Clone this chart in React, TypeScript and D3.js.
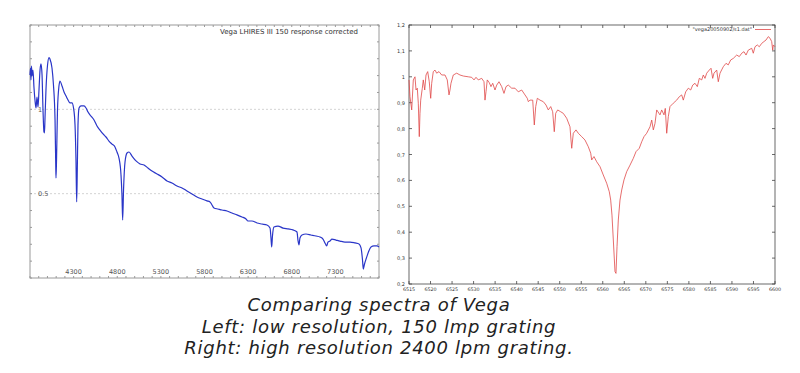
import * as d3 from "d3";

// left panel: low resolution spectrum, [wavelength A, relative flux]
const LEFT_SPECTRUM: [number, number][] = [
  [3800, 1.204], [3806, 1.245], [3811, 1.174], [3817, 1.257], [3823, 1.198], [3834, 1.233],
  [3846, 1.126], [3857, 1.055], [3869, 1.008], [3880, 1.073], [3892, 1.014], [3903, 1.115],
  [3915, 1.233], [3926, 1.269], [3938, 1.204], [3949, 0.996], [3960, 0.866], [3966, 0.86],
  [3972, 0.949], [3983, 1.115], [4001, 1.263], [4018, 1.307], [4029, 1.298], [4052, 1.245],
  [4069, 1.144], [4087, 0.937], [4095, 0.67], [4098, 0.593], [4104, 0.7], [4115, 0.996],
  [4132, 1.138], [4144, 1.168], [4167, 1.138], [4190, 1.103], [4213, 1.079], [4236, 1.055],
  [4258, 1.038], [4281, 1.038], [4299, 1.008], [4316, 0.907], [4327, 0.7], [4335, 0.451],
  [4342, 0.64], [4350, 0.907], [4362, 1.008], [4385, 1.02], [4419, 1.02], [4442, 1.008],
  [4465, 0.984], [4499, 0.96], [4534, 0.937], [4568, 0.901], [4602, 0.877], [4637, 0.854],
  [4671, 0.836], [4705, 0.812], [4740, 0.794], [4774, 0.777], [4797, 0.747], [4820, 0.711],
  [4843, 0.611], [4854, 0.492], [4862, 0.344], [4872, 0.522], [4889, 0.688], [4912, 0.741],
  [4935, 0.747], [4969, 0.723], [5015, 0.694], [5061, 0.676], [5107, 0.67], [5152, 0.652],
  [5198, 0.634], [5256, 0.617], [5313, 0.599], [5370, 0.575], [5427, 0.563], [5485, 0.545],
  [5542, 0.534], [5599, 0.516], [5657, 0.498], [5714, 0.48], [5771, 0.468], [5828, 0.457],
  [5863, 0.451], [5886, 0.433], [5909, 0.415], [5955, 0.409], [6001, 0.403], [6058, 0.397],
  [6115, 0.385], [6172, 0.374], [6230, 0.362], [6276, 0.35], [6298, 0.338], [6344, 0.338],
  [6402, 0.326], [6459, 0.32], [6516, 0.314], [6551, 0.296], [6562, 0.237], [6570, 0.184],
  [6579, 0.249], [6596, 0.302], [6642, 0.308], [6700, 0.296], [6757, 0.291], [6814, 0.285],
  [6860, 0.273], [6871, 0.225], [6883, 0.196], [6894, 0.237], [6917, 0.255], [6963, 0.261],
  [7020, 0.255], [7078, 0.249], [7124, 0.243], [7158, 0.231], [7181, 0.208], [7200, 0.19],
  [7215, 0.213], [7238, 0.219], [7261, 0.231], [7307, 0.225], [7353, 0.219], [7410, 0.213],
  [7468, 0.213], [7525, 0.208], [7571, 0.202], [7594, 0.178], [7611, 0.107], [7620, 0.053],
  [7634, 0.083], [7656, 0.119], [7679, 0.154], [7708, 0.184], [7743, 0.19], [7777, 0.19],
  [7800, 0.184],
];

// right panel: H-alpha region at 2400 lpm
const RIGHT_SPECTRUM: [number, number][] = [
  [6515.0, 0.988], [6515.23, 0.923], [6515.63, 0.872], [6516.0, 0.988], [6516.39, 1.0],
  [6516.63, 0.949], [6516.93, 0.956], [6517.16, 0.898], [6517.39, 0.769], [6517.55, 0.859],
  [6517.72, 0.91], [6518.09, 0.956], [6518.32, 0.988], [6518.65, 0.949], [6518.95, 1.007],
  [6519.34, 1.02], [6519.71, 0.981], [6520.04, 0.917], [6520.27, 0.975], [6520.64, 1.02],
  [6521.04, 1.026], [6521.43, 1.014], [6521.97, 1.02], [6522.59, 1.007], [6523.36, 1.007],
  [6523.89, 0.988], [6524.29, 0.93], [6524.52, 0.949], [6524.75, 0.975], [6525.29, 1.007],
  [6526.08, 1.014], [6526.84, 1.007], [6527.61, 1.003], [6528.77, 1.0], [6529.56, 0.998],
  [6530.1, 0.988], [6530.56, 0.998], [6531.09, 0.988], [6531.88, 0.994], [6532.42, 0.981],
  [6532.65, 0.91], [6532.88, 0.942], [6533.18, 0.988], [6533.65, 0.977], [6534.04, 0.962],
  [6534.44, 0.975], [6534.97, 0.949], [6535.37, 0.968], [6535.9, 0.981], [6536.53, 0.962],
  [6537.06, 0.936], [6537.53, 0.962], [6538.06, 0.968], [6538.85, 0.956], [6539.62, 0.956],
  [6540.38, 0.942], [6541.17, 0.949], [6541.94, 0.93], [6542.47, 0.917], [6542.71, 0.904],
  [6543.1, 0.91], [6543.73, 0.91], [6544.1, 0.814], [6544.43, 0.885], [6544.8, 0.917],
  [6545.42, 0.91], [6546.19, 0.904], [6546.82, 0.891], [6547.35, 0.872], [6547.91, 0.885],
  [6548.37, 0.865], [6548.74, 0.788], [6549.07, 0.859], [6549.53, 0.872], [6550.23, 0.865],
  [6550.83, 0.859], [6551.62, 0.84], [6552.39, 0.807], [6552.62, 0.756], [6552.79, 0.724],
  [6553.16, 0.782], [6553.78, 0.795], [6554.32, 0.782], [6555.11, 0.769], [6555.87, 0.756],
  [6556.64, 0.73], [6557.2, 0.705], [6557.43, 0.679], [6557.96, 0.692], [6558.59, 0.672],
  [6559.36, 0.653], [6560.12, 0.621], [6560.91, 0.589], [6561.52, 0.556], [6561.84, 0.524],
  [6562.14, 0.466], [6562.45, 0.37], [6562.84, 0.248], [6563.07, 0.241], [6563.31, 0.344],
  [6563.61, 0.447], [6564.0, 0.524], [6564.4, 0.563], [6564.93, 0.602], [6565.56, 0.634],
  [6566.33, 0.659], [6567.09, 0.685], [6567.72, 0.711], [6568.48, 0.724], [6569.04, 0.749],
  [6569.58, 0.769], [6570.2, 0.782], [6570.97, 0.807], [6571.37, 0.833], [6571.74, 0.795],
  [6572.13, 0.82], [6572.53, 0.872], [6573.29, 0.853], [6573.69, 0.872], [6574.22, 0.853],
  [6574.52, 0.878], [6574.85, 0.782], [6575.22, 0.846], [6575.61, 0.885], [6576.38, 0.898],
  [6577.17, 0.91], [6577.77, 0.923], [6578.33, 0.93], [6578.7, 0.91], [6579.26, 0.942],
  [6579.87, 0.956], [6580.42, 0.949], [6580.89, 0.968], [6581.42, 0.975], [6581.96, 0.962],
  [6582.42, 0.994], [6582.98, 0.988], [6583.35, 1.007], [6583.74, 0.994], [6584.14, 1.014],
  [6584.74, 1.026], [6585.14, 1.033], [6585.53, 0.994], [6585.83, 1.014], [6586.46, 1.026],
  [6586.83, 0.981], [6587.23, 1.014], [6587.99, 1.039], [6588.62, 1.052], [6589.15, 1.046],
  [6589.71, 1.065], [6590.31, 1.071], [6591.1, 1.084], [6591.71, 1.078], [6592.27, 1.091],
  [6592.8, 1.097], [6593.27, 1.084], [6593.8, 1.103], [6594.59, 1.11], [6594.96, 1.091],
  [6595.36, 1.116], [6595.89, 1.123], [6596.35, 1.116], [6596.91, 1.129], [6597.44, 1.136],
  [6597.91, 1.142], [6598.44, 1.155], [6598.84, 1.149], [6599.23, 1.136], [6599.47, 1.103],
  [6599.61, 1.123], [6600.0, 1.116],
];

const LEFT_X_TICKS = [4300, 4800, 5300, 5800, 6300, 6800, 7300];
const LEFT_Y_TICKS = [0.5, 1];
const RIGHT_X_TICKS = [
  6515, 6520, 6525, 6530, 6535, 6540, 6545, 6550, 6555,
  6560, 6565, 6570, 6575, 6580, 6585, 6590, 6595, 6600,
];
const RIGHT_Y_TICKS = [0.2, 0.3, 0.4, 0.5, 0.6, 0.7, 0.8, 0.9, 1, 1.1, 1.2];

const LEFT_TITLE = "Vega LHIRES III 150  response corrected";
const RIGHT_LEGEND = '"vega20050902/s1.dat"';
const CAPTION = [
  "Comparing spectra of Vega",
  "Left: low resolution, 150 lmp grating",
  "Right: high resolution 2400 lpm grating.",
];

const W = 800;
const H = 373;
const LEFT_BOX = { x0: 30, x1: 379, y0: 25, y1: 278 };
const RIGHT_BOX = { x0: 409, x1: 775, y0: 25, y1: 284 };

function LeftPanel() {
  const b = LEFT_BOX;
  const x = d3.scaleLinear().domain([3800, 7800]).range([b.x0, b.x1]);
  const y = d3.scaleLinear().domain([0, 1.5]).range([b.y1, b.y0]);
  const line = d3
    .line<[number, number]>()
    .x((d) => x(d[0]))
    .y((d) => y(d[1]))
    .curve(d3.curveMonotoneX);
  const minorX = x.ticks(40);
  const minorY = y.ticks(15);
  const frame = "#9a9a9a";

  return (
    <g>
      <rect x={b.x0} y={b.y0} width={b.x1 - b.x0} height={b.y1 - b.y0} fill="#fff" stroke={frame} strokeWidth={1} />
      {LEFT_Y_TICKS.map((v) => (
        <line key={v} x1={b.x0} x2={b.x1} y1={y(v)} y2={y(v)} stroke="#c8c8c8" strokeWidth={0.8} strokeDasharray="2,2" />
      ))}
      {minorX.map((v) => (
        <g key={"mx" + v}>
          <line x1={x(v)} x2={x(v)} y1={b.y1} y2={b.y1 - 2} stroke={frame} />
          <line x1={x(v)} x2={x(v)} y1={b.y0} y2={b.y0 + 2} stroke={frame} />
        </g>
      ))}
      {minorY.map((v) => (
        <g key={"my" + v}>
          <line x1={b.x0} x2={b.x0 + 2} y1={y(v)} y2={y(v)} stroke={frame} />
          <line x1={b.x1} x2={b.x1 - 2} y1={y(v)} y2={y(v)} stroke={frame} />
        </g>
      ))}
      <path d={line(LEFT_SPECTRUM) ?? ""} fill="none" stroke="#2a36c8" strokeWidth={1.2} />
      {LEFT_X_TICKS.map((v) => (
        <text key={"lx" + v} x={x(v)} y={b.y1 - 4} textAnchor="middle" fontSize={6.5} fill="#555" fontFamily="DejaVu Sans">
          {v}
        </text>
      ))}
      {LEFT_Y_TICKS.map((v) => (
        <text key={"ly" + v} x={b.x0 + 8} y={y(v) + 2.5} fontSize={6.5} fill="#555" fontFamily="DejaVu Sans">
          {v}
        </text>
      ))}
      <text x={358} y={34} textAnchor="end" fontSize={7} fill="#333" fontFamily="DejaVu Sans">
        {LEFT_TITLE}
      </text>
    </g>
  );
}

function RightPanel() {
  const b = RIGHT_BOX;
  const x = d3.scaleLinear().domain([6515, 6600]).range([b.x0, b.x1]);
  const y = d3.scaleLinear().domain([0.2, 1.2]).range([b.y1, b.y0]);
  const line = d3
    .line<[number, number]>()
    .x((d) => x(d[0]))
    .y((d) => y(d[1]));
  const fmt = (v: number) => (v === 1 ? "1" : v.toFixed(1).replace(".", ","));
  const axis = "#444";

  return (
    <g>
      <rect x={b.x0} y={b.y0} width={b.x1 - b.x0} height={b.y1 - b.y0} fill="#fff" stroke={axis} strokeWidth={0.8} />
      {RIGHT_X_TICKS.map((v) => (
        <g key={"rx" + v}>
          <line x1={x(v)} x2={x(v)} y1={b.y1} y2={b.y1 - 3} stroke={axis} strokeWidth={0.8} />
          <line x1={x(v)} x2={x(v)} y1={b.y0} y2={b.y0 + 3} stroke={axis} strokeWidth={0.8} />
          <text x={x(v)} y={b.y1 + 7} textAnchor="middle" fontSize={4.8} fill="#333" fontFamily="DejaVu Sans">
            {v}
          </text>
        </g>
      ))}
      {RIGHT_Y_TICKS.map((v) => (
        <g key={"ry" + v}>
          <line x1={b.x0} x2={b.x0 + 3} y1={y(v)} y2={y(v)} stroke={axis} strokeWidth={0.8} />
          <line x1={b.x1} x2={b.x1 - 3} y1={y(v)} y2={y(v)} stroke={axis} strokeWidth={0.8} />
          <text x={b.x0 - 4} y={y(v) + 2} textAnchor="end" fontSize={5} fill="#333" fontFamily="DejaVu Sans">
            {fmt(v)}
          </text>
        </g>
      ))}
      <path d={line(RIGHT_SPECTRUM) ?? ""} fill="none" stroke="#e04848" strokeWidth={0.8} />
      <text x={752} y={31} textAnchor="end" fontSize={5} fill="#333" fontFamily="DejaVu Sans">
        {RIGHT_LEGEND}
      </text>
      <line x1={755} x2={771} y1={29.5} y2={29.5} stroke="#e04848" strokeWidth={0.8} />
    </g>
  );
}

export default function App() {
  return (
    <svg
      width={W}
      height={H}
      viewBox={`0 0 ${W} ${H}`}
      style={{ position: "absolute", left: 0, top: 0, background: "#fff" }}
    >
      <rect width={W} height={H} fill="#fff" />
      <LeftPanel />
      <RightPanel />
      {CAPTION.map((t, i) => (
        <text
          key={i}
          x={379}
          y={311 + i * 21.5}
          textAnchor="middle"
          fontSize={18}
          letterSpacing={0.7}
          fontStyle="italic"
          fill="#222"
          fontFamily="DejaVu Sans"
        >
          {t}
        </text>
      ))}
    </svg>
  );
}
